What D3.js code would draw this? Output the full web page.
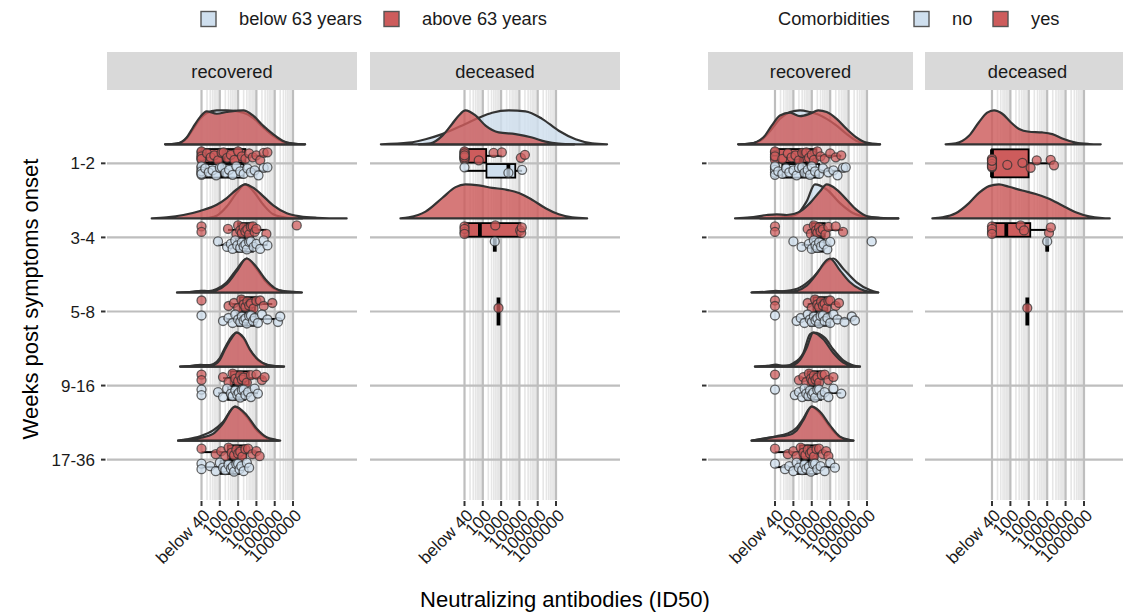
<!DOCTYPE html>
<html>
<head>
<meta charset="utf-8">
<script src="https://cdn.jsdelivr.net/npm/d3@7"></script>
<style>
  body { margin: 0; background: #ffffff; }
  svg { display: block; font-family: "Liberation Sans", Arial, Helvetica, sans-serif; }
</style>
</head>
<body>
<svg id="chart" width="1123" height="614"></svg>
<script>
// ---------------------------------------------------------------------------
// Data: neutralizing antibody titres (ID50). "below 40" is recorded as 10.
// Each list holds one array per week bin, in the order of `weeks`.
// ---------------------------------------------------------------------------
const weeks = ["1-2", "3-4", "5-8", "9-16", "17-36"];
const outcomes = ["recovered", "deceased"];
const xTickValues = [10, 100, 1000, 10000, 100000, 1000000];
const xTickLabels = ["below 40", "100", "1000", "10000", "100000", "1000000"];

const ageRecoveredBelow = [
  [10,10,10,10,10,10,10,16,25,40,63,100,130,200,320,500,800,1300,2000,3200,5000,8000,13000,25000,40000],
  [80,250,400,500,700,900,1300,1600,2000,2500,3000,4000,5000,7000,10000,16000,25000,40000],
  [10,150,300,500,700,1000,1300,1600,2000,2500,3000,4000,5000,6500,8000,12000,20000,40000,150000,200000],
  [10,10,80,150,250,400,500,700,900,1100,1300,1600,2000,2500,3500,5000,8000,12000],
  [10,10,30,60,100,150,200,300,400,500,600,800,1000,1200,1500,2000,3000,4000]
];
const ageRecoveredAbove = [
  [10,10,10,10,10,10,10,20,32,50,80,125,160,250,400,630,1000,1600,2500,4000,6300,10000,16000,25000,40000],
  [10,10,280,800,1000,1300,1600,2000,2500,3200,4000,5000,6300,8000,10000,35000,1600000],
  [10,300,600,1000,1500,2000,2500,3200,4000,5000,7000,10000,16000,25000,74000],
  [10,10,150,300,500,700,1000,1300,1600,2000,3000,5000,10000,20000,28000],
  [10,60,120,200,300,450,600,800,1000,1300,1700,2500,3500,6000,10000,15000]
];
const ageDeceasedBelow = [[10,2500,14000], [450], [], [], []];
const ageDeceasedAbove = [
  [10,10,10,10,10,10,10,10,10,10,60,390,1100,12000,20000],
  [10,10,10,10,480,11000,12600,13500],
  [720], [], []
];
const comRecoveredNo = [
  [10,10,10,10,10,15,25,40,60,100,150,200,300,400,600,800,1000,1500,2500,4000,8000,15000,25000,50000,70000],
  [100,280,700,1000,1300,1600,2000,2500,3200,4500,7000,10000,1800000],
  [10,150,250,400,600,800,1000,1300,1600,2000,2500,3000,4000,5000,7000,10000,15000,25000,60000,150000,220000],
  [10,120,200,300,400,500,650,800,1000,1200,1500,2000,2500,3500,5000,8000,15000,40000],
  [10,35,60,100,150,200,300,400,500,700,900,1200,1500,2000,3000,5000,10000,18000]
];
const comRecoveredYes = [
  [10,10,10,10,10,10,25,50,80,130,200,300,500,700,1000,1300,2000,3000,5000,10000,20000,40000],
  [10,10,600,900,1300,1700,2000,2500,3000,4000,5500,8000,20000,50000],
  [10,10,600,1000,1500,2000,2500,3200,4000,5000,6300,8000,10000,20000,30000],
  [10,200,350,500,700,900,1100,1300,1600,2000,2500,3500,5000,8000,15000],
  [10,50,100,150,250,350,450,600,800,1000,1300,1800,2500,4000,6000,8000]
];
const comDeceasedNo = [[], [10000], [], [], []];
const comDeceasedYes = [
  [10,10,10,10,10,10,10,10,68,450,1260,2700,15500,23400],
  [10,10,10,10,360,550,12600,15800],
  [830], [], []
];

// Density estimates: [log10 ID50, density relative to the curve's maximum]
const ageRecoveredBelowDensity = [
  [[-0.99,0],[-0.36,0.02],[0.19,0.18],[0.54,0.45],[0.92,0.75],[1.28,0.92],[1.83,1],[2.38,1],[3.28,0.93],[3.81,0.78],[4.36,0.5],[4.91,0.25],[5.45,0.08],[6.0,0.02],[6.66,0]],
  [[1.0,0],[1.4,0.02],[1.83,0.08],[2.38,0.35],[2.92,0.75],[3.38,1],[3.83,0.8],[4.38,0.4],[4.92,0.12],[5.66,0.02],[6.5,0]],
  [[-0.34,0],[0.5,0.02],[0.95,0.05],[1.4,0.04],[1.83,0.1],[2.38,0.3],[2.92,0.68],[3.47,1],[4.0,0.7],[4.5,0.33],[5.0,0.1],[5.5,0.03],[6.48,0]],
  [[-0.17,0],[0.5,0.02],[0.92,0.05],[1.3,0.04],[1.63,0.07],[2.0,0.25],[2.28,0.55],[2.6,0.85],[2.92,1],[3.3,0.82],[3.65,0.48],[4.1,0.18],[4.6,0.04],[5.1,0.01],[5.51,0]],
  [[-0.28,0],[0.19,0.04],[0.92,0.13],[1.63,0.3],[2.17,0.55],[2.83,1],[3.47,0.7],[4.02,0.3],[4.56,0.08],[5.11,0.01],[5.3,0]]
];
const ageRecoveredAboveDensity = [
  [[-0.99,0],[-0.36,0.02],[0.19,0.2],[0.54,0.5],[0.92,0.8],[1.28,0.97],[1.83,0.9],[2.38,0.95],[3.28,1],[3.81,0.85],[4.36,0.55],[4.91,0.3],[5.45,0.1],[6.0,0.02],[6.66,0]],
  [[-1.72,0],[-0.9,0.03],[0.01,0.1],[0.92,0.22],[1.83,0.4],[2.38,0.6],[2.92,0.85],[3.38,1],[3.83,0.9],[4.38,0.65],[4.92,0.38],[5.66,0.15],[6.38,0.06],[7.3,0.02],[8.93,0]],
  [[-0.34,0],[0.5,0.02],[0.95,0.04],[1.4,0.03],[1.83,0.07],[2.38,0.25],[2.92,0.62],[3.47,1],[4.0,0.75],[4.5,0.38],[5.0,0.13],[5.5,0.04],[6.48,0]],
  [[-0.17,0],[0.5,0.02],[0.92,0.04],[1.3,0.03],[1.63,0.05],[2.0,0.2],[2.28,0.5],[2.6,0.8],[2.92,1],[3.3,0.85],[3.65,0.5],[4.1,0.2],[4.6,0.05],[5.1,0.01],[5.51,0]],
  [[-0.28,0],[0.19,0.02],[0.92,0.08],[1.63,0.2],[2.17,0.5],[2.83,1],[3.47,0.75],[4.02,0.35],[4.56,0.1],[5.11,0.02],[5.23,0]]
];
const ageDeceasedBelowDensity = [
  [[-3.57,0],[-2.04,0.05],[-1.13,0.15],[-0.22,0.3],[1.05,0.6],[1.78,0.78],[2.51,0.93],[3.42,1],[4.33,0.97],[5.24,0.75],[6.15,0.4],[7.07,0.15],[7.97,0.03],[8.79,0]],
  [], [], [], []
];
const ageDeceasedAboveDensity = [
  [[-1.5,0],[-0.86,0.03],[-0.22,0.25],[0.32,0.6],[0.69,0.85],[1.05,1],[1.6,0.85],[2.15,0.55],[2.87,0.35],[3.79,0.3],[4.69,0.2],[5.43,0.08],[6.15,0.02],[7.0,0]],
  [[-2.5,0],[-2.04,0.03],[-1.13,0.2],[-0.22,0.6],[0.51,0.92],[1.05,1],[1.78,0.97],[2.51,0.9],[3.24,0.85],[3.97,0.75],[4.69,0.55],[5.43,0.3],[6.15,0.12],[6.88,0.03],[7.7,0]],
  [], [], []
];
const comRecoveredNoDensity = [
  [[-1.0,0],[-0.36,0.02],[0.36,0.17],[0.82,0.45],[1.27,0.75],[1.82,0.95],[2.36,1],[2.9,0.95],[3.35,0.88],[3.81,0.75],[4.35,0.55],[4.9,0.3],[5.44,0.1],[5.98,0.02],[6.71,0]],
  [[0.2,0],[1.0,0.01],[1.43,0.03],[2.18,0.12],[2.72,0.5],[3.17,1],[3.81,0.85],[4.53,0.45],[5.26,0.15],[5.98,0.04],[6.71,0.01],[7.7,0]],
  [[-0.27,0],[0.55,0.02],[1.64,0.05],[2.36,0.15],[3.08,0.45],[3.81,0.9],[4.17,1],[4.71,0.7],[5.44,0.3],[6.16,0.07],[6.61,0]],
  [[-0.09,0],[0.9,0.02],[1.6,0.02],[2.0,0.1],[2.54,0.4],[2.9,0.95],[3.1,1],[3.7,0.85],[4.17,0.5],[4.71,0.18],[5.26,0.03],[5.62,0]],
  [[-0.27,0],[0.36,0.06],[1.09,0.13],[1.64,0.2],[2.18,0.38],[2.54,0.65],[2.99,1],[3.45,0.8],[3.99,0.4],[4.53,0.1],[5.08,0.01],[5.26,0]]
];
const comRecoveredYesDensity = [
  [[-1.0,0],[-0.36,0.02],[0.36,0.2],[0.82,0.55],[1.27,0.85],[1.82,0.93],[2.36,0.83],[2.9,0.9],[3.35,1],[3.81,0.95],[4.35,0.75],[4.9,0.45],[5.44,0.2],[5.98,0.05],[6.71,0]],
  [[-1.17,0],[-0.36,0.03],[0.55,0.1],[1.09,0.12],[1.64,0.1],[2.36,0.2],[2.9,0.45],[3.45,0.8],[3.81,1],[4.35,0.85],[4.9,0.55],[5.44,0.25],[5.98,0.07],[6.71,0.02],[7.7,0]],
  [[-0.27,0],[0.55,0.02],[1.05,0.05],[1.64,0.02],[2.18,0.05],[2.72,0.2],[3.27,0.55],[3.81,0.95],[3.99,1],[4.53,0.65],[5.08,0.3],[5.62,0.1],[6.16,0.02],[6.61,0]],
  [[-0.09,0],[0.6,0.02],[1.05,0.06],[1.45,0.02],[1.99,0.05],[2.36,0.2],[2.72,0.55],[3.08,1],[3.63,0.8],[4.17,0.4],[4.71,0.12],[5.26,0.02],[5.62,0]],
  [[-0.27,0],[0.36,0.05],[1.09,0.12],[1.64,0.15],[2.18,0.3],[2.54,0.6],[2.99,1],[3.45,0.85],[3.99,0.45],[4.53,0.12],[5.08,0.02],[5.26,0]]
];
const comDeceasedNoDensity = [[], [], [], [], []];
const comDeceasedYesDensity = [
  [[-1.52,0],[-0.97,0.03],[-0.25,0.25],[0.29,0.65],[0.74,0.93],[1.11,1],[1.56,0.9],[2.02,0.65],[2.47,0.45],[3.01,0.37],[3.73,0.35],[4.28,0.3],[4.82,0.17],[5.55,0.05],[6.27,0.01],[6.91,0]],
  [[-2.24,0],[-1.7,0.03],[-0.97,0.15],[-0.25,0.45],[0.29,0.75],[0.84,0.95],[1.38,1],[1.92,0.93],[2.65,0.82],[3.38,0.72],[4.1,0.58],[4.82,0.38],[5.55,0.18],[6.27,0.06],[6.99,0.01],[7.4,0]],
  [], [], []
];

// ---------------------------------------------------------------------------
// Layout and styling
// ---------------------------------------------------------------------------
const lowColor = "#cfdfee";
const highColor = "#cd5c5c";
const panelTop = 90, panelBottom = 500, stripTop = 52;
const gridMajor = "#bebebe", gridMinor = "#e6e6e6";
const labelSize = 18.3, tickSize = 17, titleSize = 22;

const svg = d3.select("#chart");

// Week bins sit on a shared vertical scale (index 0 at the top)
const y = d3.scaleLinear().domain([-0.99, 4.545]).range([panelTop, panelBottom]);
const unit = y(1) - y(0);
const densityBase = 19 / unit;     // gap between the week line and the density baseline
const densityHeight = 34 / unit;   // height of a density at its maximum
const dodge = 7.5 / unit;          // vertical offset of the two dodged groups
const jitter = [-3.5, 2, -1, 4, -4.5, 0.5, 3, -2.5, 1.5, -0.5, 4.5, -3];

const plots = [
  {
    x0: 107, width: 250, gap: 13, logDomain: [-4.164, 9.496], yTickX: 101, yLabels: true,
    legendTitle: null,
    legend: [{label: "below 63 years", color: lowColor, x: 201}, {label: "above 63 years", color: highColor, x: 384}],
    facets: [
      {low: ageRecoveredBelow, high: ageRecoveredAbove, lowD: ageRecoveredBelowDensity, highD: ageRecoveredAboveDensity},
      {low: ageDeceasedBelow, high: ageDeceasedAbove, lowD: ageDeceasedBelowDensity, highD: ageDeceasedAboveDensity}
    ]
  },
  {
    x0: 708, width: 205, gap: 12, logDomain: [-2.64, 8.5], yTickX: 702, yLabels: false,
    legendTitle: {label: "Comorbidities", x: 778},
    legend: [{label: "no", color: lowColor, x: 914}, {label: "yes", color: highColor, x: 993}],
    facets: [
      {low: comRecoveredNo, high: comRecoveredYes, lowD: comRecoveredNoDensity, highD: comRecoveredYesDensity},
      {low: comDeceasedNo, high: comDeceasedYes, lowD: comDeceasedNoDensity, highD: comDeceasedYesDensity}
    ]
  }
];

function boxStats(values) {
  const v = values.map(Math.log10).sort(d3.ascending);
  const q1 = d3.quantile(v, 0.25), med = d3.quantile(v, 0.5), q3 = d3.quantile(v, 0.75);
  const iqr = q3 - q1;
  const lo = d3.min(v.filter(d => d >= q1 - 1.5 * iqr));
  const hi = d3.max(v.filter(d => d <= q3 + 1.5 * iqr));
  return {q1, med, q3, lo, hi};
}

plots.forEach(plot => {
  // legend
  const lg = svg.append("g").attr("font-size", labelSize).attr("fill", "#1a1a1a");
  if (plot.legendTitle) {
    lg.append("text").attr("x", plot.legendTitle.x).attr("y", 25).text(plot.legendTitle.label);
  }
  plot.legend.forEach(item => {
    lg.append("rect").attr("x", item.x).attr("y", 11.5).attr("width", 15).attr("height", 15)
      .attr("fill", item.color).attr("stroke", "#555").attr("stroke-width", 1.4);
    lg.append("text").attr("x", item.x + 38).attr("y", 25).text(item.label);
  });

  // y axis ticks and labels
  weeks.forEach((w, i) => {
    svg.append("line").attr("x1", plot.yTickX).attr("x2", plot.yTickX + 4.5)
      .attr("y1", y(i)).attr("y2", y(i)).attr("stroke", "#333").attr("stroke-width", 2);
    if (plot.yLabels) {
      svg.append("text").attr("x", 95).attr("y", y(i)).attr("dy", "0.36em")
        .attr("text-anchor", "end").attr("font-size", tickSize).attr("fill", "#1a1a1a").text(w);
    }
  });

  plot.facets.forEach((facet, fi) => {
    const px = plot.x0 + fi * (plot.width + plot.gap);
    const x = d3.scaleLog()
      .domain([10 ** plot.logDomain[0], 10 ** plot.logDomain[1]])
      .range([px, px + plot.width]);
    const g = svg.append("g");

    // strip
    g.append("rect").attr("x", px).attr("y", stripTop).attr("width", plot.width)
      .attr("height", panelTop - stripTop).attr("fill", "#d9d9d9");
    g.append("text").attr("x", px + plot.width / 2).attr("y", (stripTop + panelTop) / 2)
      .attr("dy", "0.36em").attr("text-anchor", "middle").attr("font-size", labelSize)
      .attr("fill", "#1a1a1a").text(outcomes[fi]);

    // minor grid between the major breaks
    const minor = [];
    for (let k = 0; k < xTickValues.length - 1; k++) {
      for (let m = 2; m <= 9; m++) minor.push(xTickValues[k] * m);
    }
    g.selectAll(".minor").data(minor).join("line")
      .attr("x1", d => x(d)).attr("x2", d => x(d))
      .attr("y1", panelTop).attr("y2", panelBottom)
      .attr("stroke", gridMinor).attr("stroke-width", 1.6);
    g.selectAll(".major").data(xTickValues).join("line")
      .attr("x1", d => x(d)).attr("x2", d => x(d))
      .attr("y1", panelTop).attr("y2", panelBottom)
      .attr("stroke", gridMajor).attr("stroke-width", 2.2);
    g.selectAll(".hline").data(weeks).join("line")
      .attr("x1", px).attr("x2", px + plot.width)
      .attr("y1", (d, i) => y(i)).attr("y2", (d, i) => y(i))
      .attr("stroke", gridMajor).attr("stroke-width", 2.2);

    // x axis ticks and labels
    g.selectAll(".xtick").data(xTickValues).join("line")
      .attr("x1", d => x(d)).attr("x2", d => x(d))
      .attr("y1", panelBottom + 1).attr("y2", panelBottom + 6)
      .attr("stroke", "#333").attr("stroke-width", 2);
    xTickValues.forEach((v, k) => {
      g.append("text")
        .attr("transform", `translate(${x(v) + 1},${panelBottom + 8}) rotate(-45)`)
        .attr("text-anchor", "end").attr("dy", "0.71em").attr("font-size", tickSize)
        .attr("fill", "#1a1a1a").text(xTickLabels[k]);
    });

    // densities, boxes and points per week bin
    weeks.forEach((w, i) => {
      const base = i - densityBase;
      [[facet.lowD[i], lowColor], [facet.highD[i], highColor]].forEach(([dens, color]) => {
        if (!dens.length) return;
        const area = d3.area()
          .x(d => x(10 ** d[0]))
          .y0(y(base))
          .y1(d => y(base - densityHeight * d[1]))
          .curve(d3.curveMonotoneX);
        g.append("path").datum(dens).attr("d", area)
          .attr("fill", color).attr("fill-opacity", 0.82)
          .attr("stroke", "#333").attr("stroke-width", 2.2).attr("stroke-linejoin", "round");
      });

      const groups = [
        {values: facet.high[i], color: highColor, side: -1},
        {values: facet.low[i], color: lowColor, side: 1}
      ].filter(gr => gr.values.length);
      const single = groups.length === 1;

      groups.forEach(gr => {
        const cy = y(i + (single ? 0 : gr.side * dodge));
        const hh = single ? 14 : 6.8;
        const s = boxStats(gr.values);
        g.append("line").attr("x1", x(10 ** s.lo)).attr("x2", x(10 ** s.q1))
          .attr("y1", cy).attr("y2", cy).attr("stroke", "#000").attr("stroke-width", 2);
        g.append("line").attr("x1", x(10 ** s.q3)).attr("x2", x(10 ** s.hi))
          .attr("y1", cy).attr("y2", cy).attr("stroke", "#000").attr("stroke-width", 2);
        g.append("rect").attr("x", x(10 ** s.q1)).attr("y", cy - hh)
          .attr("width", x(10 ** s.q3) - x(10 ** s.q1)).attr("height", 2 * hh)
          .attr("fill", gr.color).attr("stroke", "#000").attr("stroke-width", 1.8);
        g.append("line").attr("x1", x(10 ** s.med)).attr("x2", x(10 ** s.med))
          .attr("y1", cy - hh).attr("y2", cy + hh).attr("stroke", "#000").attr("stroke-width", 3.8);
      });

      groups.forEach(gr => {
        const cy = y(i + (single ? 0 : gr.side * dodge));
        g.selectAll(null).data(gr.values).join("circle")
          .attr("cx", d => x(d))
          .attr("cy", (d, k) => cy + jitter[k % jitter.length])
          .attr("r", 4.5)
          .attr("fill", gr.color).attr("fill-opacity", 0.75)
          .attr("stroke", "#333").attr("stroke-opacity", 0.75).attr("stroke-width", 1.3);
      });
    });
  });
});

// axis titles
svg.append("text").attr("x", 565).attr("y", 607).attr("text-anchor", "middle")
  .attr("font-size", titleSize).attr("fill", "#000").text("Neutralizing antibodies (ID50)");
svg.append("text").attr("transform", "translate(38,299) rotate(-90)").attr("text-anchor", "middle")
  .attr("font-size", titleSize).attr("fill", "#000").text("Weeks post symptoms onset");
</script>
</body>
</html>
